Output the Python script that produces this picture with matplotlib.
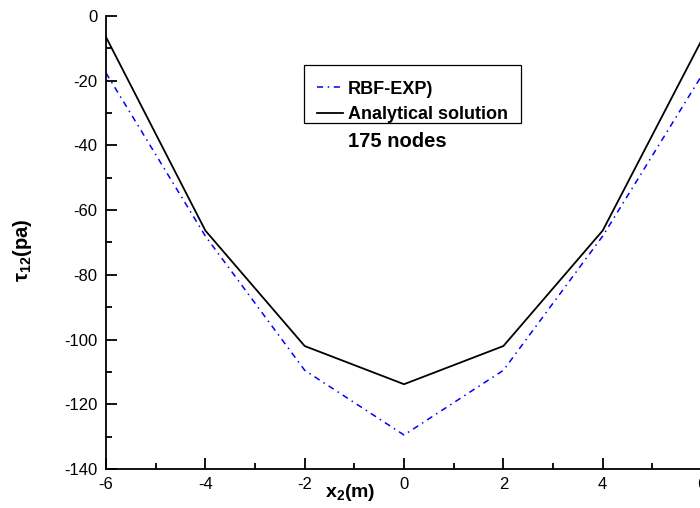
import matplotlib
matplotlib.use("Agg")
import matplotlib.pyplot as plt
from matplotlib.patches import Rectangle
from matplotlib.ticker import MultipleLocator

plt.rcParams["font.family"] = ["Liberation Sans", "DejaVu Sans"]
plt.rcParams["mathtext.fontset"] = "custom"
plt.rcParams["mathtext.rm"] = "Liberation Sans"
plt.rcParams["mathtext.bf"] = "Liberation Sans:bold"
plt.rcParams["mathtext.it"] = "Liberation Sans:italic"
plt.rcParams["axes.unicode_minus"] = False

x2 = [-6, -4, -2, 0, 2, 4, 6]
rbf_exp = [-17.6, -68, -109.5, -129.5, -109.5, -68, -18.2]
analytical = [-6.5, -66.3, -102, -113.8, -102, -66.3, -7.2]

xticks = [-6, -4, -2, 0, 2, 4, 6]
yticks = [0, -20, -40, -60, -80, -100, -120, -140]

fig = plt.figure(figsize=(7.0, 5.08), dpi=100)
ax = fig.add_axes([0.1514, 0.0768, 0.8516, 0.8917])

ax.plot(x2, rbf_exp, color="#0000ff", lw=1.1, linestyle=(0, (4, 3, 1, 3)),
        label="RBF-EXP)")
ax.plot(x2, analytical, color="black", lw=1.3, label="Analytical solution")

ax.set_xlim(-6, 6)
ax.set_ylim(-140, 0)
ax.set_xticks(xticks)
ax.set_yticks(yticks)
ax.xaxis.set_minor_locator(MultipleLocator(1))
ax.yaxis.set_minor_locator(MultipleLocator(10))
ax.tick_params(which="both", direction="in", labelsize=12, width=1.3)
ax.tick_params(which="major", length=8, pad=6)
ax.tick_params(which="minor", length=4)
ax.spines["top"].set_visible(False)
ax.spines["right"].set_visible(False)
for s in ("left", "bottom"):
    ax.spines[s].set_linewidth(1.3)

ax.set_xlabel(r"$\mathbf{x_2}$(m)", fontsize=14, fontweight="bold")
ax.xaxis.set_label_coords(0.41, -0.028)
ax.set_ylabel(r"$\mathbf{\tau_{12}}$(pa)", fontsize=14.5, fontweight="bold")
ax.yaxis.set_label_coords(-0.12, 0.483)

# legend frame drawn by hand (top padding is larger than bottom in the original)
ax.legend(loc="upper left", bbox_to_anchor=(0.332, 0.885), frameon=False,
          handlelength=1.45, handletextpad=0.3, borderpad=0.7,
          labelspacing=0.45, borderaxespad=0,
          prop={"weight": "bold", "size": 13})
ax.add_patch(Rectangle((0.332, 0.764), 0.364, 0.128, transform=ax.transAxes,
                       fill=False, edgecolor="black", linewidth=0.9))

ax.text(0.488, 0.722, "175 nodes", transform=ax.transAxes, ha="center",
        va="center", fontsize=14.5, fontweight="bold")

fig.savefig("out.png", dpi=100)
